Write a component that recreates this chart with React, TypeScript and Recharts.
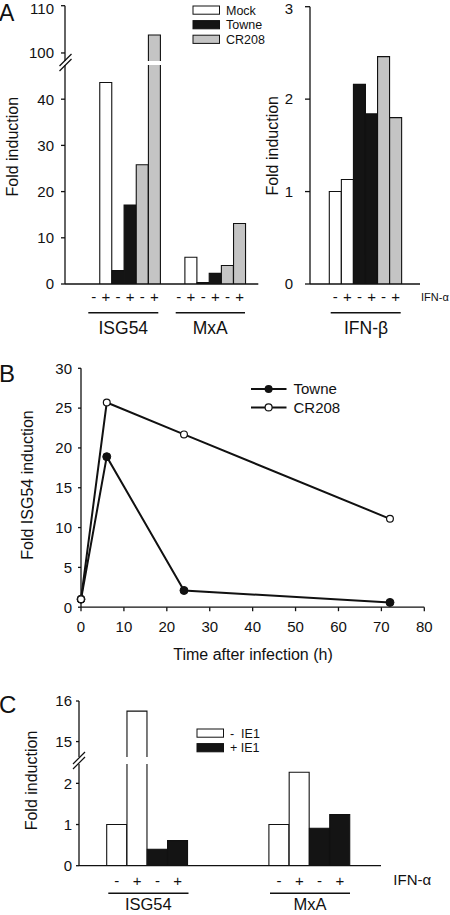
import React from 'react';
import { BarChart, Bar, LineChart, Line, XAxis, YAxis, Legend } from 'recharts';

const FONT = '"Liberation Sans", Arial, Helvetica, sans-serif';
const INK = '#111111';

// ---------- Panel A ----------
const genesA = ['ISG54', 'MxA'];
const strainsA = ['Mock', 'Towne', 'CR208'];
const markerA = 'IFN-β';
const ifnSigns = ['-', '+'];
const isg54A: (number | null)[] = [null, 43.6, 2.9, 17.1, 25.8, 103.8];
const mxaA: (number | null)[] = [null, 5.8, 0.3, 2.3, 4.0, 13.1];
const ifnbA: (number | null)[] = [1.0, 1.13, 2.16, 1.84, 2.46, 1.8];
const ticksALow = [0, 10, 20, 30, 40];
const ticksAHigh = [100, 110];
const ticksARight = [0, 1, 2, 3];

// ---------- Panel B ----------
const strainsB = ['Towne', 'CR208'];
const timeB = [0, 6, 24, 72];
const towneB = [1.0, 18.9, 2.1, 0.6];
const cr208B = [1.0, 25.7, 21.7, 11.1];
const ticksBX = [0, 10, 20, 30, 40, 50, 60, 70, 80];
const ticksBY = [0, 5, 10, 15, 20, 25, 30];

// ---------- Panel C ----------
const genesC = ['ISG54', 'MxA'];
const ie1C = ['-  IE1', '+ IE1'];
const isg54C: (number | null)[] = [1.0, 15.75, 0.4, 0.61];
const mxaC: (number | null)[] = [1.0, 2.27, 0.91, 1.24];
const ticksCLow = [0, 1, 2];
const ticksCHigh = [15, 16];

const FILL: Record<string, string> = {
  Mock: '#ffffff',
  Towne: '#141414',
  CR208: '#c4c4c4',
  '-  IE1': '#ffffff',
  '+ IE1': '#141414',
};

type Row = { key: string; sign: string; group: string; v: number | null };
const geneRows = (gene: string, values: (number | null)[], groups: string[]): Row[] =>
  values.map((v, i) => ({ key: `${gene}|${i}`, sign: ifnSigns[i % 2], group: groups[Math.floor(i / 2)], v }));
const gapRows = (n: number, id: string): Row[] =>
  Array.from({ length: n }, (_, i) => ({ key: `gap-${id}-${i}`, sign: '', group: '', v: null }));

const rowsALeft = [...geneRows(genesA[0], isg54A, strainsA), ...gapRows(1, 'a'), ...geneRows(genesA[1], mxaA, strainsA)];
const rowsARight = geneRows(markerA, ifnbA, strainsA);
const rowsC = [...geneRows(genesC[0], isg54C, ie1C), ...gapRows(4, 'c'), ...geneRows(genesC[1], mxaC, ie1C)];
const rowsB = timeB.map((t, i) => ({ t, [strainsB[0]]: towneB[i], [strainsB[1]]: cr208B[i] }));

// axis-break domains
const domALow: [number, number] = [0, 47.4];
const domAHigh: [number, number] = [98.3, 110];
const domCLow: [number, number] = [0, 2.47];
const domCHigh: [number, number] = [14.62, 16];

const W = 450;
function frame(plotL: number, plotT: number, plotR: number, plotB: number, top: number, bottom: number, xh: number) {
  return {
    style: { position: 'absolute' as const, left: 0, top },
    width: W,
    height: bottom - top,
    margin: { top: plotT - top, right: W - plotR, bottom: bottom - plotB - xh, left: 0 },
    yw: plotL,
    xh,
  };
}

// bar with open bottom (the axis / break provides the bottom edge)
const makeBarShape = (minVal: number) => (props: any) => {
  const { x, y, width, height, payload } = props;
  if (!payload || payload.v == null || payload.v <= minVal || !width || height == null) return null;
  const top = Math.min(y, y + height);
  const bot = Math.max(y, y + height);
  const fill = FILL[payload.group] ?? '#fff';
  return (
    <g>
      <rect x={x} y={top} width={width} height={bot - top} fill={fill} />
      <path d={`M${x},${bot}V${top}H${x + width}V${bot}`} fill="none" stroke={INK} strokeWidth={1.1} />
    </g>
  );
};

const axisLine = { stroke: INK, strokeWidth: 1.3 };
const tickStyle = { fill: INK, fontSize: 15, fontFamily: FONT };

const BoxLegend = ({ items, fs }: { items: string[]; fs: number }) => (
  <svg width={90} height={items.length * 14.6 + 4} style={{ overflow: 'visible', fontFamily: FONT }}>
    {items.map((s, i) => {
      const cy = 6 + i * 14.6;
      return (
        <g key={s}>
          <rect x={1} y={cy - 4} width={26.5} height={8.2} fill={FILL[s]} stroke={INK} strokeWidth={1} />
          <text x={34} y={cy + fs * 0.36} fontSize={fs} fill={INK} style={{ whiteSpace: 'pre' }}>
            {s}
          </text>
        </g>
      );
    })}
  </svg>
);

const LineLegend = () => (
  <svg width={110} height={40} style={{ overflow: 'visible', fontFamily: FONT }}>
    {strainsB.map((s, i) => {
      const cy = 6 + i * 18.4;
      return (
        <g key={s}>
          <line x1={0} x2={35.5} y1={cy} y2={cy} stroke={INK} strokeWidth={2} />
          {i === 0 ? (
            <circle cx={17.6} cy={cy} r={4} fill={INK} />
          ) : (
            <circle cx={17.6} cy={cy} r={3.5} fill="#fff" stroke={INK} strokeWidth={1.2} />
          )}
          <text x={42.5} y={cy + 5.3} fontSize={15} fill={INK}>
            {s}
          </text>
        </g>
      );
    })}
  </svg>
);

const noLayout = { layout: 'vertical' as const, align: 'center' as const, verticalAlign: 'middle' as const };

export default function App() {
  const aHi = frame(65, 5.7, 258.3, 61, 0, 62, 0);
  const aLo = frame(65, 65, 258.3, 284, 60, 312, 28);
  const aR = frame(310, 6.7, 420, 284, 0, 312, 28);
  const b = frame(81, 368.3, 424.3, 607.2, 355, 642, 32);
  const cHi = frame(79, 701, 381, 757, 690, 758, 0);
  const cLo = frame(79, 764, 381, 865.7, 755, 900, 30);

  const yAxisCommon = {
    axisLine,
    tickLine: { stroke: INK, strokeWidth: 1.3 },
    tick: tickStyle,
    allowDataOverflow: true,
    type: 'number' as const,
  };

  return (
    <div
      style={{
        position: 'absolute',
        left: 0,
        top: 0,
        width: W,
        height: 915,
        overflow: 'hidden',
        background: '#fff',
        fontFamily: FONT,
      }}
    >
      {/* Panel A left, lower segment */}
      <div style={aLo.style}>
        <BarChart width={aLo.width} height={aLo.height} margin={aLo.margin} data={rowsALeft} barCategoryGap={0}>
          <XAxis
            dataKey="key"
            interval={0}
            height={aLo.xh}
            padding={{ left: 22.6, right: 12.6 }}
            tickFormatter={(k: string) => rowsALeft.find((r) => r.key === k)?.sign ?? ''}
            axisLine={axisLine}
            tickLine={false}
            tickSize={4}
            tickMargin={3.4}
            tick={tickStyle}
          />
          <YAxis {...yAxisCommon} width={aLo.yw} domain={domALow} ticks={ticksALow} tickSize={4} tickMargin={7} />
          <Bar dataKey="v" shape={makeBarShape(domALow[0] - 1)} isAnimationActive={false} />
        </BarChart>
      </div>
      {/* Panel A left, upper segment */}
      <div style={aHi.style}>
        <BarChart width={aHi.width} height={aHi.height} margin={aHi.margin} data={rowsALeft} barCategoryGap={0}>
          <XAxis dataKey="key" hide padding={{ left: 22.6, right: 12.6 }} />
          <YAxis {...yAxisCommon} width={aHi.yw} domain={domAHigh} ticks={ticksAHigh} tickSize={4} tickMargin={7} />
          <Bar dataKey="v" shape={makeBarShape(domAHigh[0])} isAnimationActive={false} />
          <Legend
            {...noLayout}
            content={() => <BoxLegend items={strainsA} fs={12.5} />}
            wrapperStyle={{ left: 191.5, top: 4, width: 90, height: 46 }}
          />
        </BarChart>
      </div>
      {/* Panel A right */}
      <div style={aR.style}>
        <BarChart width={aR.width} height={aR.height} margin={aR.margin} data={rowsARight} barCategoryGap={0}>
          <XAxis
            dataKey="key"
            interval={0}
            height={aR.xh}
            padding={{ left: 19.3, right: 18.3 }}
            tickFormatter={(k: string) => rowsARight.find((r) => r.key === k)?.sign ?? ''}
            axisLine={axisLine}
            tickLine={false}
            tickSize={4}
            tickMargin={3.4}
            tick={tickStyle}
          />
          <YAxis {...yAxisCommon} width={aR.yw} domain={[0, 3]} ticks={ticksARight} tickSize={5} tickMargin={12} />
          <Bar dataKey="v" shape={makeBarShape(-1)} isAnimationActive={false} />
        </BarChart>
      </div>
      {/* Panel B */}
      <div style={b.style}>
        <LineChart width={b.width} height={b.height} margin={b.margin} data={rowsB}>
          <XAxis
            dataKey="t"
            type="number"
            domain={[0, 80]}
            ticks={ticksBX}
            height={b.xh}
            axisLine={axisLine}
            tickLine={{ stroke: INK, strokeWidth: 1.3 }}
            tickSize={4}
            tickMargin={10.5}
            tick={tickStyle}
          />
          <YAxis {...yAxisCommon} width={b.yw} domain={[0, 30]} ticks={ticksBY} tickSize={3} tickMargin={6} />
          <Line
            type="linear"
            dataKey={strainsB[0]}
            stroke={INK}
            strokeWidth={2}
            dot={{ r: 4, fill: INK, stroke: INK, strokeWidth: 1 }}
            isAnimationActive={false}
          />
          <Line
            type="linear"
            dataKey={strainsB[1]}
            stroke={INK}
            strokeWidth={2}
            dot={{ r: 3.4, fill: '#fff', stroke: INK, strokeWidth: 1.2 }}
            isAnimationActive={false}
          />
          <Legend {...noLayout} content={() => <LineLegend />} wrapperStyle={{ left: 250.7, top: 389.3 - 6 - 355, width: 110, height: 40 }} />
        </LineChart>
      </div>
      {/* Panel C lower segment */}
      <div style={cLo.style}>
        <BarChart width={cLo.width} height={cLo.height} margin={cLo.margin} data={rowsC} barCategoryGap={0}>
          <XAxis
            dataKey="key"
            interval={0}
            height={cLo.xh}
            padding={{ left: 27.7, right: 31 }}
            tickFormatter={(k: string) => rowsC.find((r) => r.key === k)?.sign ?? ''}
            axisLine={axisLine}
            tickLine={false}
            tickSize={5}
            tickMargin={4.5}
            tick={tickStyle}
          />
          <YAxis {...yAxisCommon} width={cLo.yw} domain={domCLow} ticks={ticksCLow} tickSize={3} tickMargin={4} />
          <Bar dataKey="v" shape={makeBarShape(domCLow[0] - 1)} isAnimationActive={false} />
        </BarChart>
      </div>
      {/* Panel C upper segment */}
      <div style={cHi.style}>
        <BarChart width={cHi.width} height={cHi.height} margin={cHi.margin} data={rowsC} barCategoryGap={0}>
          <XAxis dataKey="key" hide padding={{ left: 27.7, right: 31 }} />
          <YAxis {...yAxisCommon} width={cHi.yw} domain={domCHigh} ticks={ticksCHigh} tickSize={3} tickMargin={4} />
          <Bar dataKey="v" shape={makeBarShape(domCHigh[0])} isAnimationActive={false} />
          <Legend
            {...noLayout}
            content={() => <BoxLegend items={ie1C} fs={12.5} />}
            wrapperStyle={{ left: 195.5, top: 732.5 - 6 - 690, width: 90, height: 34 }}
          />
        </BarChart>
      </div>

      {/* Annotations */}
      <svg
        width={W}
        height={915}
        style={{ position: 'absolute', left: 0, top: 0, pointerEvents: 'none', fontFamily: FONT }}
      >
        <g fill={INK}>
          <text x={-1} y={21} fontSize={23}>A</text>
          <text x={-1} y={382} fontSize={24}>B</text>
          <text x={-1} y={713} fontSize={24}>C</text>
        </g>
        {/* axis break marks */}
        <g stroke={INK} strokeWidth={1.2}>
          <line x1={59.5} y1={66} x2={71.5} y2={54} />
          <line x1={59.5} y1={71} x2={71.5} y2={59} />
          <line x1={73} y1={764} x2={85} y2={752} />
          <line x1={73} y1={769} x2={85} y2={757} />
        </g>
        {/* y-axis titles */}
        <g fill={INK} fontSize={16} textAnchor="middle">
          <text transform="translate(18.3,146.7) rotate(-90)">Fold induction</text>
          <text transform="translate(278.3,145.8) rotate(-90)">Fold induction</text>
          <text transform="translate(33.3,485) rotate(-90)">Fold ISG54 induction</text>
          <text transform="translate(36.7,780.5) rotate(-90)">Fold induction</text>
          <text x={253} y={660}>Time after infection (h)</text>
        </g>
        {/* group underlines and labels */}
        <g stroke={INK} strokeWidth={1.6}>
          <line x1={88.3} x2={158.3} y1={312.7} y2={312.7} />
          <line x1={175.7} x2={245} y1={312.7} y2={312.7} />
          <line x1={330.7} x2={400.7} y1={312.7} y2={312.7} />
          <line x1={108.3} x2={188.5} y1={893.3} y2={893.3} />
          <line x1={270} x2={350} y1={893.3} y2={893.3} />
        </g>
        <g fill={INK} fontSize={17.5} textAnchor="middle">
          <text x={123.3} y={334}>{genesA[0]}</text>
          <text x={210.3} y={334}>{genesA[1]}</text>
          <text x={366} y={334}>{markerA}</text>
        </g>
        <g fill={INK} fontSize={16.5} textAnchor="middle">
          <text x={148.3} y={910}>{genesC[0]}</text>
          <text x={310} y={910}>{genesC[1]}</text>
        </g>
        <g fill={INK}>
          <text x={421} y={300.5} fontSize={11}>IFN-α</text>
          <text x={393.3} y={885.4} fontSize={15}>IFN-α</text>
        </g>
      </svg>
    </div>
  );
}
